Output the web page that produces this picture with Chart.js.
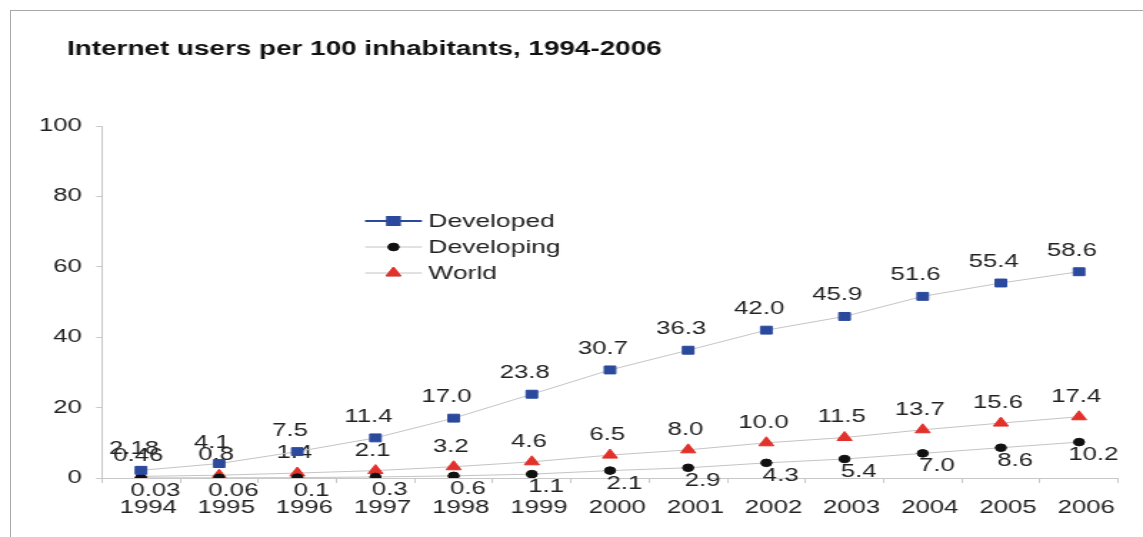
<!DOCTYPE html>
<html>
<head>
<meta charset="utf-8">
<script src="https://cdn.jsdelivr.net/npm/chart.js@4/dist/chart.umd.min.js"></script>
<style>
  html, body { margin: 0; padding: 0; background: #fff; width: 1143px; height: 537px; overflow: hidden; }
  #frame { position: absolute; left: 10px; top: 10px; width: 1140px; height: 540px;
           border-top: 1px solid #a8a8a8; border-left: 1px solid #a8a8a8; }
  #wrap { position: absolute; left: 0; top: 0; width: 800px; height: 537px;
          transform: scaleX(1.42875); transform-origin: 0 0; }
  canvas { display: block; }
</style>
</head>
<body>
<div id="frame"></div>
<div id="wrap"><canvas id="c" width="800" height="537" style="width:800px;height:537px"></canvas></div>
<script>
const years = ['1994','1995','1996','1997','1998','1999','2000','2001','2002','2003','2004','2005','2006'];
const developed  = [2.18, 4.1, 7.5, 11.4, 17.0, 23.8, 30.7, 36.3, 42.0, 45.9, 51.6, 55.4, 58.6];
const developing = [0.03, 0.06, 0.1, 0.3, 0.6, 1.1, 2.1, 2.9, 4.3, 5.4, 7.0, 8.6, 10.2];
const world      = [0.46, 0.8, 1.4, 2.1, 3.2, 4.6, 6.5, 8.0, 10.0, 11.5, 13.7, 15.6, 17.4];
const seriesNames = ['Developed', 'Developing', 'World'];
const titleText = 'Internet users per 100 inhabitants, 1994-2006';

const FONT = "'Liberation Sans', Arial, Helvetica, sans-serif";
const BLUE = '#2c4a9d', BLACK = '#111111', RED = '#e2302a', LINE = '#c4c4c4', AXIS = '#c8c8c8';

function fmt(v) { return Number.isInteger(v) ? v.toFixed(1) : String(v); }

// label placement per dataset (logical px)
const labelOffsets = [ {dx: -5, dy: -21}, {dx: 10, dy: 13}, {dx: -2, dy: -20} ];

const labelPlugin = {
  id: 'valueLabels',
  beforeDatasetsDraw(chart) {
    const ctx = chart.ctx;
    ctx.save();
    ctx.font = '18px ' + FONT;
    ctx.fillStyle = '#222';
    ctx.textAlign = 'center';
    ctx.textBaseline = 'middle';
    chart.data.datasets.forEach((ds, i) => {
      const meta = chart.getDatasetMeta(i);
      const off = labelOffsets[i];
      meta.data.forEach((pt, j) => {
        ctx.fillText(fmt(ds.data[j]), pt.x + off.dx, pt.y + off.dy);
      });
    });
    ctx.restore();
  }
};

const decorPlugin = {
  id: 'decor',
  afterDraw(chart) {
    const ctx = chart.ctx;
    ctx.save();
    ctx.font = 'bold 19.5px ' + FONT;
    ctx.fillStyle = '#111';
    ctx.textAlign = 'left';
    ctx.textBaseline = 'middle';
    ctx.fillText(titleText, 46.9, 50);
    ctx.restore();
    const lx0 = 255.5, lx1 = 295.3, tx = 299.8;
    const rows = [221, 247, 273];
    chart.data.datasets.forEach((ds, i) => {
      const y = rows[i];
      ctx.save();
      ctx.strokeStyle = i === 0 ? BLUE : LINE;
      ctx.lineWidth = i === 0 ? 2 : 1;
      ctx.beginPath(); ctx.moveTo(lx0, y); ctx.lineTo(lx1, y); ctx.stroke();
      Chart.helpers.drawPoint(ctx, {
        pointStyle: ds.pointStyle, radius: ds.pointRadius, borderWidth: 1, rotation: 0
      }, (lx0 + lx1) / 2, y);
      ctx.fillStyle = ds.pointBackgroundColor;
      ctx.strokeStyle = ds.pointBorderColor;
      ctx.fill(); ctx.stroke();
      ctx.font = '18.5px ' + FONT;
      ctx.fillStyle = '#222';
      ctx.textAlign = 'left';
      ctx.textBaseline = 'middle';
      ctx.fillText(seriesNames[i], tx, y + 1);
      ctx.restore();
    });
  }
};

function series(label, data, style, color, radius) {
  return {
    label, data,
    borderColor: LINE, borderWidth: 1,
    pointStyle: style, pointRadius: radius, pointHoverRadius: radius,
    pointBackgroundColor: color, pointBorderColor: color, pointBorderWidth: 1,
    tension: 0, fill: false
  };
}

new Chart(document.getElementById('c'), {
  type: 'line',
  data: {
    labels: years,
    datasets: [
      series(seriesNames[0], developed, 'rect', BLUE, 5.6),
      series(seriesNames[1], developing, 'circle', BLACK, 3.8),
      series(seriesNames[2], world, 'triangle', RED, 6)
    ]
  },
  options: {
    responsive: false,
    animation: false,
    devicePixelRatio: 1,
    layout: { padding: { left: 21.3, right: 17.4, top: 126, bottom: 15 } },
    plugins: { legend: { display: false }, title: { display: false }, tooltip: { enabled: false } },
    scales: {
      x: {
        type: 'category',
        offset: true,
        grid: { offset: true, drawOnChartArea: false, tickLength: 5, color: AXIS },
        border: { color: AXIS, width: 1 },
        ticks: { font: { size: 18, family: FONT }, color: '#222', padding: 14, labelOffset: 5,
                 maxRotation: 0, autoSkip: false },
        afterFit(s) { s.height = 44; }
      },
      y: {
        min: 0, max: 100,
        grid: { drawOnChartArea: false, tickLength: 4, color: AXIS },
        border: { color: AXIS, width: 1 },
        ticks: { stepSize: 20, font: { size: 18, family: FONT }, color: '#222', padding: 10 },
        afterFit(s) { s.width = 50; }
      }
    }
  },
  plugins: [labelPlugin, decorPlugin]
});
</script>
</body>
</html>
